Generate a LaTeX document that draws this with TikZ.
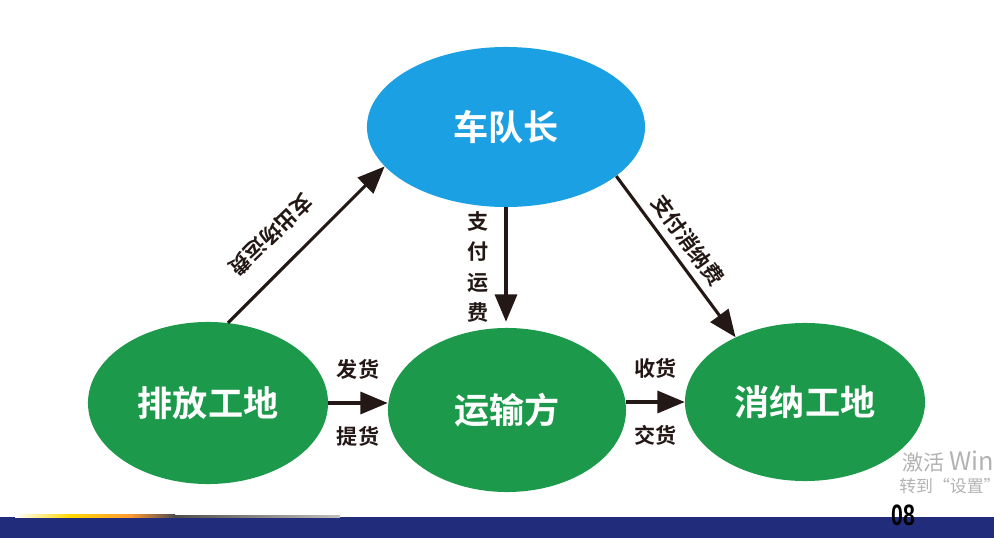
\documentclass[tikz,border=0pt]{standalone}
\usepackage{fontspec}
\usetikzlibrary{shapes.geometric,arrows.meta,calc}
\newfontfamily\cjk{Noto Sans CJK SC}[BoldFont={Noto Sans CJK SC Bold}]
\newfontfamily\numfont{Liberation Sans}
\definecolor{fleetblue}{RGB}{28,160,228}
\definecolor{sitegreen}{RGB}{28,153,74}
\definecolor{arrowink}{RGB}{35,24,21}
\definecolor{barnavy}{RGB}{33,44,122}

\begin{document}
\begin{tikzpicture}[x=0.025cm,y=-0.025cm,
    party/.style={ellipse,inner sep=0pt,text=white,
      font=\cjk\bfseries\fontsize{25}{30}\selectfont},
    flow/.style={line width=2.2pt,draw=arrowink,
      -{Triangle[length=0.68cm,width=0.55cm]}},
    tag/.style={text=arrowink,inner sep=0pt,
      font=\cjk\bfseries\fontsize{15}{21.5}\selectfont},
    winmark/.style={anchor=west,inner sep=0pt,text=black!30}]

    \useasboundingbox (0,0) rectangle (994,538);
    \clip (0,0) rectangle (994,538); % cuts the watermark at the edge

    % the four parties
    \node[party,fill=fleetblue,minimum width=6.95cm,minimum height=4cm]
      (Fleet) at (506,127) {车队长};
    \node[party,fill=sitegreen,minimum width=6cm,minimum height=4.05cm]
      (Source) at (208,403) {排放工地};
    \node[party,fill=sitegreen,minimum width=5.95cm,minimum height=4.1cm]
      (Carrier) at (507,410) {运输方};
    \node[party,fill=sitegreen,minimum width=6cm,minimum height=3.95cm]
      (Sink) at (805,402) {消纳工地};

    % money and goods
    \draw[flow] (Source.76) -- (Fleet.198);
    \draw[flow,shorten >=0.15cm] (Fleet.south) -- (Fleet.south |- Carrier.north);
    \draw[flow] (Fleet.-24) -- (Sink.137);
    \draw[flow] (Source.east) -- (Source.east -| Carrier.west)
      node[tag,midway,above=0.55cm] (ship) {发货}
      node[tag,midway,below=0.55cm] (pickup) {提货};
    \draw[flow] (Carrier.east |- Sink.west) -- (Sink.west)
      node[tag,midway,above=0.55cm] (receive) {收货}
      node[tag,midway,below=0.55cm] (deliver) {交货};

    \node[tag,align=center] (payfreight) at (478,267) {支\\付\\运\\费};
    \node[tag,rotate=224] (payout) at (271,235) {支出场运费};
    \node[tag,rotate=-54] (paydisposal) at (688,240) {支付消纳费};

    % page footer
    \fill[barnavy] (0,517) rectangle (994,538);
    \shade[left color=white,right color=yellow!70!orange] (15,514) rectangle (70,517);
    \shade[left color=yellow!70!orange,right color=orange!80] (70,514) rectangle (130,517);
    \shade[left color=orange!80,right color=black!70] (130,514) rectangle (175,517);
    \shade[left color=black!70,right color=black!25] (175,515) rectangle (340,517);
    \node[font=\numfont\bfseries\fontsize{21}{21}\selectfont,xscale=0.72,inner sep=0pt]
      (pagenum) at (903,515) {08};
    \node[winmark,font=\cjk\fontsize{15}{18}\selectfont] (activate) at (902,461)
      {激活 {\fontsize{18}{18}\selectfont Windows}};
    \node[winmark,font=\cjk\fontsize{12}{14}\selectfont] (gotoset) at (899,486)
      {转到“设置”以激活 Windows。};
\end{tikzpicture}
\end{document}
